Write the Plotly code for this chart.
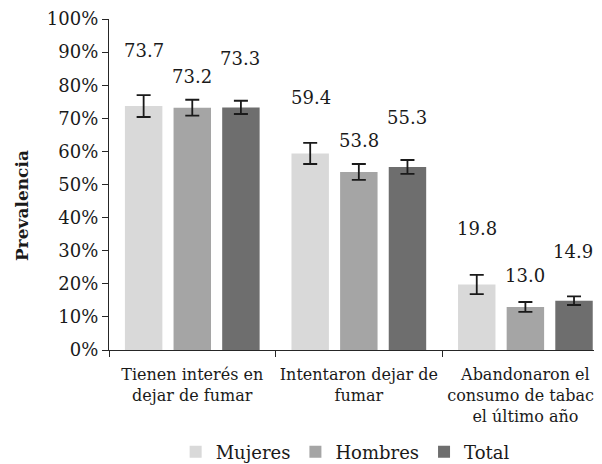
import plotly.graph_objects as go

categorias = ["Tienen interés en<br>dejar de fumar",
              "Intentaron dejar de<br>fumar",
              "Abandonaron el<br>consumo de tabaco<br>el último año"]
series = ["Mujeres", "Hombres", "Total"]
mujeres = [73.7, 59.4, 19.8]
hombres = [73.2, 53.8, 13.0]
total = [73.3, 55.3, 14.9]
err_mujeres = [3.3, 3.2, 2.9]
err_hombres = [2.4, 2.4, 1.5]
err_total = [2.0, 2.1, 1.3]

valores = [mujeres, hombres, total]
errores = [err_mujeres, err_hombres, err_total]
colores = ["#d9d9d9", "#a5a5a5", "#6e6e6e"]
fuente = "DejaVu Serif"

fig = go.Figure()
for nombre, vals, errs, col in zip(series, valores, errores, colores):
    fig.add_trace(go.Bar(
        x=categorias, y=vals, name=nombre,
        marker=dict(color=col, line=dict(width=0)),
        error_y=dict(type="data", array=errs, color="#1a1a1a",
                     thickness=1.8, width=7),
    ))

# etiquetas de valores, desplazadas como en el original
desplaz_x = [-48, 0, 48]
desplaz_y = [56, 31, 49]
for vals, dx, dy in zip(valores, desplaz_x, desplaz_y):
    for cat, v in zip(categorias, vals):
        fig.add_annotation(x=cat, y=v, text=f"{v:.1f}", showarrow=False,
                           xshift=dx, yshift=dy,
                           font=dict(family=fuente, size=18, color="#1a1a1a"))

# título del eje y (algo por debajo del centro, como en el original)
fig.add_annotation(text="<b>Prevalencia</b>", textangle=-90, showarrow=False,
                   xref="paper", yref="paper", x=0, y=0.435, xshift=-87,
                   xanchor="center", yanchor="middle",
                   font=dict(family=fuente, size=17, color="#1a1a1a"))

# la página deja 8 px de margen en el body: la figura se ajusta a eso
fig.update_layout(
    width=594, height=456,
    margin=dict(l=101, r=0, t=11, b=114, autoexpand=False),
    paper_bgcolor="white", plot_bgcolor="white",
    font=dict(family=fuente, size=16, color="#1a1a1a"),
    barmode="group", bargap=0.124, bargroupgap=0.23,
    showlegend=True,
    legend=dict(orientation="h", x=0.479, xanchor="center",
                y=-0.308, yanchor="middle",
                font=dict(family=fuente, size=18)),
)
fig.update_xaxes(range=[-0.5, 2.46], showline=True, linecolor="#262626",
                 linewidth=1.3, ticks="outside", tickson="boundaries",
                 ticklen=6, tickcolor="#262626", automargin=False,
                 tickangle=0, ticklabelstandoff=10,
                 tickfont=dict(family=fuente, size=16))
fig.update_yaxes(range=[0, 100], dtick=10, ticksuffix="%", showgrid=False,
                 zeroline=False, showline=True, linecolor="#262626",
                 linewidth=1.3, ticks="outside", ticklen=6,
                 tickcolor="#262626", automargin=False,
                 tickfont=dict(family=fuente, size=18))

fig.write_html("out.html")
